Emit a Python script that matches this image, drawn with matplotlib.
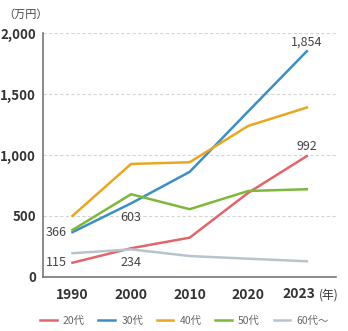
import matplotlib.pyplot as plt

plt.rcParams['font.family'] = ['Noto Sans CJK JP', 'DejaVu Sans']

years = ['1990', '2000', '2010', '2020', '2023']
labels = ['20代', '30代', '40代', '50代', '60代〜']
s20 = [115, 234, 321, 690, 992]
s30 = [366, 603, 862, 1360, 1854]
s40 = [500, 927, 941, 1240, 1391]
s50 = [384, 678, 555, 705, 719]
s60 = [193, 225, 170, 148, 127]
colors = ['#e0666b', '#3d8fc2', '#e9a623', '#7db83a', '#b8c4cc']

fig = plt.figure(figsize=(3.48, 3.31), dpi=100)
ax = fig.add_axes([0.124, 0.164, 0.842, 0.735])

x = range(len(years))
for vals, c, lab in zip([s20, s30, s40, s50, s60], colors, labels):
    ax.plot(x, vals, color=c, lw=1.8, label=lab)

txt = dict(fontsize=9, color='#444444')
ax.text(0 - 0.1, s30[0], f'{s30[0]:,}', ha='right', va='center', **txt)
ax.text(0 - 0.1, s20[0], f'{s20[0]:,}', ha='right', va='center', **txt)
ax.text(1, s30[1] - 60, f'{s30[1]:,}', ha='center', va='top', **txt)
ax.text(1, s20[1] - 60, f'{s20[1]:,}', ha='center', va='top', **txt)
ax.text(4, s30[4] + 25, f'{s30[4]:,}', ha='center', va='bottom', **txt)
ax.text(4, s20[4] + 25, f'{s20[4]:,}', ha='center', va='bottom', **txt)

ax.set_xlim(-0.5, 4.5)
ax.set_ylim(0, 2000)
ax.set_xticks(list(x))
ax.set_xticklabels(years[:-1] + [''], fontsize=10, fontweight='bold', color='#333333')
ax.set_yticks([0, 500, 1000, 1500, 2000])
ax.set_yticklabels(['0', '500', '1,000', '1,500', '2,000'], fontsize=9.5,
                   fontweight='bold', color='#333333')
ax.tick_params(length=0, pad=5)
ax.tick_params(axis='x', pad=8)
ax.grid(axis='y', ls=(0, (3, 2)), color='#d5d5d5', lw=0.8)
ax.set_axisbelow(True)
for s in ['top', 'right']:
    ax.spines[s].set_visible(False)
for s in ['left', 'bottom']:
    ax.spines[s].set_color('#777777')
    ax.spines[s].set_linewidth(1.2)

# last x label with unit
ax.text(3.86, -0.044, years[-1], transform=ax.get_xaxis_transform(),
        ha='center', va='top', fontsize=10, fontweight='bold', color='#333333')
ax.text(4.2, -0.05, '(年)', transform=ax.get_xaxis_transform(),
        ha='left', va='top', fontsize=8.5, color='#333333')
fig.text(0.008, 0.955, '（万円）', ha='left', va='center', fontsize=8, color='#444444')

fig.legend(loc='center', bbox_to_anchor=(0.53, 0.03), ncol=5, frameon=False,
           fontsize=7.5, handlelength=1.6, columnspacing=1.3, handletextpad=0.6,
           labelcolor='#666666')

fig.savefig('out.png', dpi=100)
